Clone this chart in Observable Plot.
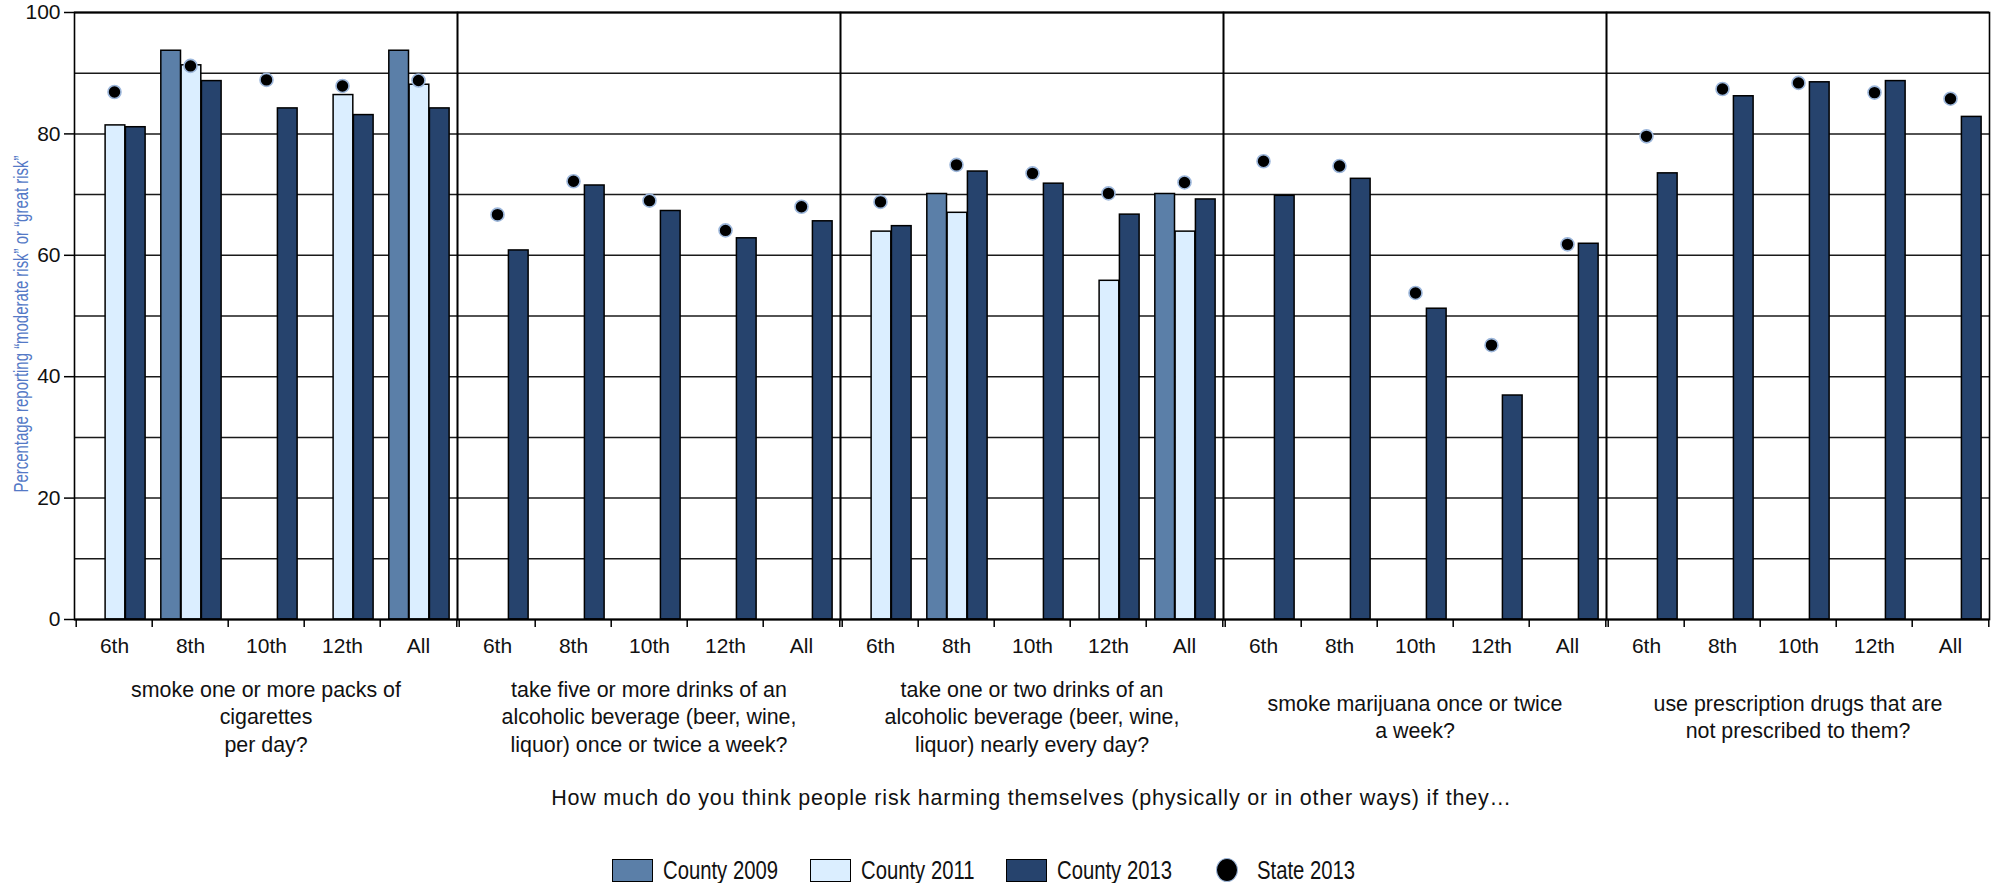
<!DOCTYPE html>
<html>
<head>
<meta charset="utf-8">
<script src="https://cdn.jsdelivr.net/npm/d3@7"></script>
<script src="https://cdn.jsdelivr.net/npm/@observablehq/plot@0.6"></script>
<style>
  body { margin: 0; background: white; width: 1997px; height: 883px; position: relative; overflow: hidden; }
  #chart { position: absolute; left: 0; top: 0; }
  #caption { position: absolute; left: 74px; width: 1915px; top: 786px; text-align: center;
    font-family: "Liberation Sans", Arial, sans-serif; font-size: 21.5px; letter-spacing: 0.8px; color: #111; }
  #legend { position: absolute; left: 0; top: 856px; width: 1997px; height: 28px;
    font-family: "Liberation Sans", Arial, sans-serif; font-size: 26px; color: #111; }
  .item { position: absolute; top: 0; height: 28px; display: flex; align-items: center; }
  .sw { width: 41px; height: 23px; border: 1.5px solid #000; margin-right: 10px; box-sizing: border-box; flex: none; }
  .dot { width: 22px; height: 24px; border-radius: 50%; background: #000; border: 1.5px solid #9db7db; margin-right: 19px; box-sizing: border-box; flex: none; }
  .lt { display: inline-block; white-space: nowrap; transform: scaleX(0.78); transform-origin: left center; }
</style>
</head>
<body>
<div id="chart"></div>
<div id="caption"></div>
<div id="legend"></div>
<script>
// ---- data ----
const questions = [
  "smoke one or more packs of\ncigarettes\nper day?",
  "take five or more drinks of an\nalcoholic beverage (beer, wine,\nliquor) once or twice a week?",
  "take one or two drinks of an\nalcoholic beverage (beer, wine,\nliquor) nearly every day?",
  "smoke marijuana once or twice\na week?",
  "use prescription drugs that are\nnot prescribed to them?"
];
const grades = ["6th", "8th", "10th", "12th", "All"];
const county2009 = [
  [null, 93.7, null, null, 93.7],
  [null, null, null, null, null],
  [null, 70.1, null, null, 70.1],
  [null, null, null, null, null],
  [null, null, null, null, null]
];
const county2011 = [
  [81.4, 91.3, null, 86.4, 88.1],
  [null, null, null, null, null],
  [63.9, 67.0, null, 55.8, 63.9],
  [null, null, null, null, null],
  [null, null, null, null, null]
];
const county2013 = [
  [81.1, 88.7, 84.2, 83.1, 84.2],
  [60.8, 71.5, 67.3, 62.8, 65.6],
  [64.8, 73.8, 71.8, 66.7, 69.2],
  [69.8, 72.6, 51.2, 36.9, 61.9],
  [73.5, 86.2, 88.5, 88.7, 82.8]
];
const state2013 = [
  [86.9, 91.2, 88.9, 87.9, 88.8],
  [66.7, 72.2, 69.0, 64.1, 68.0],
  [68.8, 74.9, 73.5, 70.2, 72.0],
  [75.5, 74.7, 53.8, 45.2, 61.8],
  [79.6, 87.4, 88.4, 86.8, 85.8]
];
const seriesNames = ["County 2009", "County 2011", "County 2013", "State 2013"];
const seriesColors = ["#5b7fa8", "#dbeeff", "#26436d", "#000000"];
const yTicks = [0, 20, 40, 60, 80, 100];
const gridTicks = [10, 20, 30, 40, 50, 60, 70, 80, 90];
const yLabel = "Percentage reporting \u201cmoderate risk\u201d or \u201cgreat risk\u201d";
const captionText = "How much do you think people risk harming themselves (physically or in other ways) if they\u2026";

// ---- table ----
const rows = [];
questions.forEach((q, qi) => grades.forEach((g, gi) => rows.push({
  q, g,
  c2009: county2009[qi][gi], c2011: county2011[qi][gi],
  c2013: county2013[qi][gi], s2013: state2013[qi][gi]
})));

// ---- layout ----
const W = 1997, H = 770, ML = 74, MR = 8, MT = 12, MB = H - 619;
const panelW = (W - ML - MR) / questions.length;
const bw = panelW / grades.length;
const barW = bw * 0.265;
const groupLeft = bw * 0.115;
const keys = ["c2009", "c2011", "c2013"];

const barMarks = keys.map((k, i) => {
  const insetLeft = groupLeft + i * barW;
  const insetRight = bw - insetLeft - barW;
  return Plot.barY(rows.filter(d => d[k] != null), {
    fx: "q", x: "g", y: k, fill: seriesColors[i], stroke: "black", strokeWidth: 1.5,
    insetLeft, insetRight
  });
});

const chart = Plot.plot({
  width: W, height: H,
  marginLeft: ML, marginRight: MR, marginTop: MT, marginBottom: MB,
  style: { fontFamily: "'Liberation Sans', Arial, sans-serif", fontSize: "21px", color: "#111", background: "white", overflow: "visible" },
  fx: { domain: questions, padding: 0, axis: null },
  x: { domain: grades, padding: 0, axis: null },
  y: { domain: [0, 100], axis: null },
  marks: [
    Plot.gridY(gridTicks, { stroke: "#1a1a1a", strokeOpacity: 1, strokeWidth: 1.5 }),
    ...barMarks,
    Plot.dot(rows, { fx: "q", x: "g", y: "s2013", r: 6.5, fill: "black", stroke: "#9db7db", strokeWidth: 1.6 }),
    Plot.frame({ stroke: "black", strokeWidth: 1.6 }),
    Plot.ruleY([100], { stroke: "black", strokeWidth: 2.2 }),
    Plot.ruleY([0], { stroke: "black", strokeWidth: 2.2 }),
    Plot.axisY(yTicks, { tickSize: 10, tickPadding: 4, fontSize: 21, label: null, stroke: "black", strokeWidth: 1.5 }),
    Plot.axisX({ tickSize: 0, tickPadding: 19, fontSize: 21, label: null }),
    Plot.axisX({ tickSize: 8, tickFormat: () => "", dx: -bw / 2, label: null, stroke: "black", strokeWidth: 1.5 }),
    Plot.axisX({ ticks: ["All"], tickSize: 8, tickFormat: () => "", dx: bw / 2, label: null, stroke: "black", strokeWidth: 1.5 }),
    Plot.text(questions, { fx: d => d, text: d => d, frameAnchor: "bottom", dy: 96, lineAnchor: "middle", lineHeight: 1.29, fontSize: 21.4, fill: "#111" }),
    Plot.text([yLabel], { fx: () => questions[0], text: d => d, frameAnchor: "left", textAnchor: "middle", dx: -53, dy: 8, rotate: -90,
      fill: "#5479c6", fontSize: 20 })
  ]
});
document.getElementById("chart").appendChild(chart);

// condense the y label to the reference's narrow face
d3.select(chart).selectAll("text").filter(function() { return this.textContent === yLabel; })
  .attr("textLength", 337).attr("lengthAdjust", "spacingAndGlyphs");

document.getElementById("caption").textContent = captionText;
const legend = document.getElementById("legend");
const legendX = [612, 810, 1006, 1216];
seriesNames.forEach((name, i) => {
  const item = document.createElement("div");
  item.className = "item";
  item.style.left = legendX[i] + "px";
  const sw = document.createElement("div");
  if (i < 3) { sw.className = "sw"; sw.style.background = seriesColors[i]; }
  else { sw.className = "dot"; }
  const t = document.createElement("span");
  t.className = "lt";
  t.textContent = name;
  item.appendChild(sw); item.appendChild(t);
  legend.appendChild(item);
});
</script>
</body>
</html>
